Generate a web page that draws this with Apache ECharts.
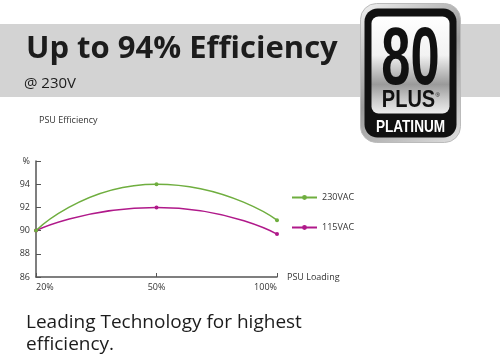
<!DOCTYPE html>
<html>
<head>
<meta charset="utf-8">
<script src="https://cdn.jsdelivr.net/npm/echarts@6/dist/echarts.min.js"></script>
<style>
html,body{margin:0;padding:0;background:#fff;}
#c{width:500px;height:354px;}
</style>
</head>
<body>
<div id="c"></div>
<script>
const categories = ['20%', '50%', '100%'];
const seriesNames = ['230VAC', '115VAC'];
const values230 = [90, 94, 90.9];
const values115 = [90, 92, 89.7];
const yTicks = [86, 88, 90, 92, 94, 96];

const chart = echarts.init(document.getElementById('c'), null, {renderer: 'canvas'});
const axisColor = '#555';
const green = '#6fae3f';
const magenta = '#b0198a';

const option = {
  backgroundColor: '#fff',
  animation: false,
  title: [{
    text: 'Up to 94% Efficiency',
    left: 21, top: 29,
    textStyle: {fontFamily: 'Open Sans', fontWeight: 'bold', fontSize: 31, color: '#1c1c1c'}
  }, {
    text: '@ 230V',
    left: 19, top: 71,
    textStyle: {fontFamily: 'Open Sans', fontWeight: 'normal', fontSize: 15, color: '#1c1c1c'}
  }, {
    text: 'PSU Efficiency',
    left: 34, top: 111,
    textStyle: {fontFamily: 'Open Sans', fontWeight: 'normal', fontSize: 9, color: '#333'}
  }],
  legend: {
    orient: 'vertical',
    left: 291, top: 193,
    padding: 0,
    itemWidth: 25, itemHeight: 6,
    itemGap: 21,
    textStyle: {fontFamily: 'Open Sans', fontSize: 9, color: '#333'},
    data: seriesNames
  },
  grid: {left: 36, right: 223, top: 161, bottom: 77, containLabel: false},
  xAxis: {
    type: 'category',
    data: categories,
    boundaryGap: false,
    name: 'PSU Loading',
    nameLocation: 'end',
    nameGap: 10,
    nameTextStyle: {fontFamily: 'Open Sans', fontSize: 9, color: '#333'},
    axisLine: {lineStyle: {color: axisColor, width: 1.5}},
    axisTick: {inside: true, length: 4, lineStyle: {color: axisColor}},
    axisLabel: {fontFamily: 'Open Sans', fontSize: 9, color: '#333', margin: 6,
      alignMinLabel: 'left', alignMaxLabel: 'right'},
    splitLine: {show: false}
  },
  yAxis: {
    type: 'value',
    min: yTicks[0], max: yTicks[yTicks.length - 1], interval: 2,
    axisLine: {show: true, lineStyle: {color: axisColor, width: 1.5}},
    axisTick: {show: true, inside: true, length: 5, lineStyle: {color: axisColor}},
    axisLabel: {fontFamily: 'Open Sans', fontSize: 9, color: '#333', margin: 6,
      formatter: v => v === yTicks[yTicks.length - 1] ? '%' : String(v)},
    splitLine: {show: false}
  },
  series: [{
    name: seriesNames[0], type: 'line', data: values230, smooth: 0.6,
    symbol: 'circle', symbolSize: 4, showSymbol: true,
    itemStyle: {color: green}, lineStyle: {color: green, width: 1.5}, z: 3
  }, {
    name: seriesNames[1], type: 'line', data: values115, smooth: 0.6,
    symbol: 'circle', symbolSize: 4, showSymbol: true,
    itemStyle: {color: magenta}, lineStyle: {color: magenta, width: 1.5}, z: 2
  }],
  graphic: [
    {type: 'rect', z: -10, silent: true, shape: {x: 0, y: 24, width: 500, height: 73}, style: {fill: '#d3d3d3'}},
    {type: 'text', left: 26, top: 312, style: {text: 'Leading Technology for highest\nefficiency.', font: '19px "Open Sans"', fill: '#1c1c1c', lineHeight: 22}},
    {type: 'group', left: 360, top: 3, children: [
      {type: 'rect', shape: {x: 0, y: 0, width: 100, height: 139, r: 16},
        style: {fill: new echarts.graphic.LinearGradient(0, 0, 1, 1, [
          {offset: 0, color: '#f2f2f2'}, {offset: 0.5, color: '#9a9a9a'}, {offset: 1, color: '#e0e0e0'}]), stroke: '#bbb', lineWidth: 1}},
      {type: 'rect', shape: {x: 4, y: 5, width: 92, height: 129, r: 13}, style: {fill: '#111'}},
      {type: 'rect', shape: {x: 11, y: 13, width: 78, height: 97, r: 7},
        style: {fill: new echarts.graphic.LinearGradient(0, 0, 0, 1, [
          {offset: 0, color: '#ffffff'}, {offset: 0.4, color: '#f2f2f2'}, {offset: 0.7, color: '#9a9a9a'}, {offset: 0.85, color: '#c8c8c8'}, {offset: 1, color: '#eeeeee'}])}},
      {type: 'text', x: 50, y: 17, scaleX: 0.64, style: {text: '80', font: 'bold 82px "Liberation Sans", sans-serif', fill: '#111', align: 'center', verticalAlign: 'top'}},
      {type: 'text', x: 48, y: 86, scaleX: 0.87, style: {text: 'PLUS', font: 'bold 23px "Liberation Sans", sans-serif', fill: '#111', align: 'center', verticalAlign: 'top'}},
      {type: 'text', x: 75, y: 89, style: {text: '®', font: '6px sans-serif', fill: '#111'}},
      {type: 'text', x: 50, y: 115, scaleX: 0.8, style: {text: 'PLATINUM', font: 'bold 17px "Liberation Sans", sans-serif', fill: '#fff', align: 'center', verticalAlign: 'top'}}
    ]}
  ]
};
chart.setOption(option);
</script>
</body>
</html>
